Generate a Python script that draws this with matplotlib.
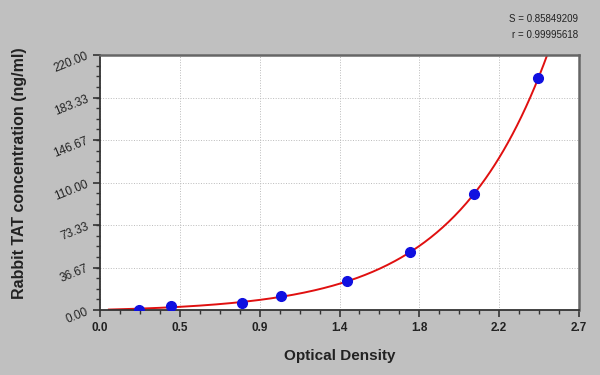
import numpy as np
import matplotlib.pyplot as plt

# standard curve points
od = [0.22, 0.40, 0.80, 1.02, 1.39, 1.75, 2.11, 2.47]
conc = [0.0, 3.125, 6.25, 12.5, 25.0, 50.0, 100.0, 200.0]

x_ticks = [0.0, 0.45, 0.9, 1.35, 1.8, 2.25, 2.7]
x_labels = ['0.0', '0.5', '0.9', '1.4', '1.8', '2.2', '2.7']
y_ticks = [0.0, 36.67, 73.33, 110.0, 146.67, 183.33, 220.0]
y_labels = ['0.00', '36.67', '73.33', '110.00', '146.67', '183.33', '220.00']


def fit_exp(x, y):
    # y = a*exp(b*x) + c, scan b and solve a, c by least squares
    x = np.asarray(x)
    y = np.asarray(y)
    best = None
    for b in np.linspace(0.5, 4, 701):
        A = np.column_stack([np.exp(b * x), np.ones_like(x)])
        sol, res, *_ = np.linalg.lstsq(A, y, rcond=None)
        err = np.sum((A @ sol - y) ** 2)
        if best is None or err < best[0]:
            best = (err, b, sol[0], sol[1])
    return best[1:]


plt.rcParams['font.family'] = ['Liberation Sans', 'DejaVu Sans']

fig = plt.figure(figsize=(6, 3.75), dpi=100, facecolor='#c0c0c0')
ax = fig.add_axes([0.1667, 0.1733, 0.7983, 0.68])
ax.set_facecolor('white')

b, a, c = fit_exp(od, conc)
xs = np.linspace(0.05, 2.56, 300)
ax.plot(xs, a * np.exp(b * xs) + c, color='#e01010', linewidth=1.4, zorder=2)
ax.plot(od, conc, 'o', color='#1010e0', markersize=7, zorder=3)

ax.set_xlim(0, 2.7)
ax.set_ylim(0, 220)
ax.set_xticks(x_ticks)
ax.set_xticklabels(x_labels, fontsize=8.5, fontweight='bold', color='#222222')
ax.set_yticks(y_ticks)
ax.set_yticklabels(y_labels, fontsize=8.5, rotation=22, color='#222222')
ax.set_xticks(np.arange(0, 2.71, 0.1125), minor=True)
ax.set_yticks(np.arange(0, 220.1, 220 / 24), minor=True)
ax.tick_params(which='major', direction='out', length=5, width=1.2, color='#333333')
ax.tick_params(which='minor', direction='out', length=3, width=1, color='#333333')
ax.tick_params(axis='y', pad=2)
ax.grid(True, which='major', linestyle=':', color='#bbbbbb', linewidth=0.7)

for side in ['left', 'bottom']:
    ax.spines[side].set_color('#333333')
    ax.spines[side].set_linewidth(1.3)
for side in ['top', 'right']:
    ax.spines[side].set_color('#666666')
    ax.spines[side].set_linewidth(1.8)

ax.set_xlabel('Optical Density', fontsize=11, fontweight='bold', color='#222222', labelpad=11)
ax.set_ylabel('Rabbit TAT concentration (ng/ml)', fontsize=11.5, fontweight='bold', color='#222222')
ax.yaxis.set_label_coords(-0.152, 0.535)

fig.text(0.963, 0.948, 'S = 0.85849209', ha='right', va='center', fontsize=7, color='#222222')
fig.text(0.963, 0.908, 'r = 0.99995618', ha='right', va='center', fontsize=7, color='#222222')

plt.savefig('out.png', dpi=100, facecolor=fig.get_facecolor())
